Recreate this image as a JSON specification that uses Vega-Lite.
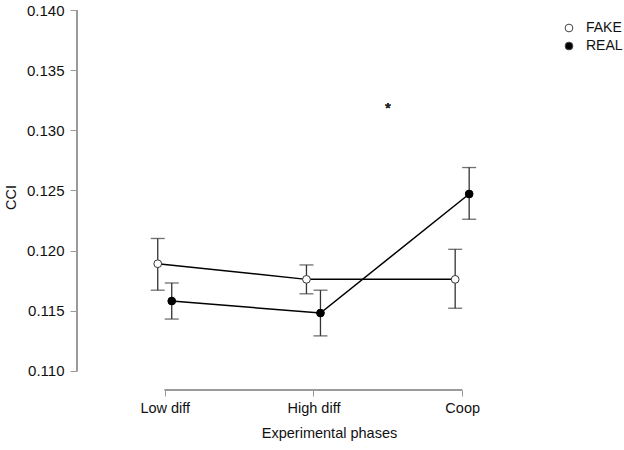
{
  "$schema": "https://vega.github.io/schema/vega-lite/v6.json",
  "autosize": {"type": "none"},
  "padding": {"left": 77, "top": 4, "right": 43, "bottom": 60},
  "width": 504,
  "height": 386,
  "background": "white",
  "data": {
    "values": [
      {"phase": 1, "group": "FAKE", "cci": 0.1189, "lo": 0.1167, "hi": 0.1210},
      {"phase": 2, "group": "FAKE", "cci": 0.1176, "lo": 0.1164, "hi": 0.1188},
      {"phase": 3, "group": "FAKE", "cci": 0.1176, "lo": 0.1152, "hi": 0.1201},
      {"phase": 1, "group": "REAL", "cci": 0.1158, "lo": 0.1143, "hi": 0.1173},
      {"phase": 2, "group": "REAL", "cci": 0.1148, "lo": 0.1129, "hi": 0.1167},
      {"phase": 3, "group": "REAL", "cci": 0.1247, "lo": 0.1226, "hi": 0.1269}
    ]
  },
  "encoding": {
    "x": {
      "field": "phase",
      "type": "quantitative",
      "title": "Experimental phases",
      "scale": {"domain": [0.41, 3.799], "nice": false, "zero": false},
      "axis": {
        "values": [1, 2, 3],
        "domain": false,
        "grid": false,
        "tickSize": 6,
        "labelPadding": 5,
        "titlePadding": 12,
        "labelExpr": "datum.value == 1 ? 'Low diff' : datum.value == 2 ? 'High diff' : 'Coop'",
        "labelFontSize": 14.5,
        "titleFontSize": 14.5
      }
    },
    "y": {
      "field": "cci",
      "type": "quantitative",
      "title": "CCI",
      "scale": {"domain": [0.1084, 0.1405], "nice": false, "zero": false},
      "axis": {
        "values": [0.11, 0.115, 0.12, 0.125, 0.13, 0.135, 0.14],
        "format": ".3f",
        "domain": false,
        "grid": false,
        "tickSize": 7,
        "labelPadding": 6,
        "titlePadding": 8,
        "labelFontSize": 15,
        "titleFontSize": 14.5
      }
    }
  },
  "layer": [
    {
      "mark": {"type": "rule", "color": "#999", "strokeWidth": 1},
      "encoding": {"x": {"datum": 0.41}, "y": {"datum": 0.11}, "y2": {"datum": 0.14}}
    },
    {
      "mark": {"type": "rule", "color": "#999", "strokeWidth": 1},
      "encoding": {"x": {"datum": 1}, "x2": {"datum": 3}, "y": {"datum": 0.1084}}
    },
    {
      "transform": [{"filter": "datum.group == 'FAKE'"}],
      "layer": [
        {"mark": {"type": "line", "color": "black", "strokeWidth": 1.5, "xOffset": -7}, "encoding": {}},
        {"mark": {"type": "rule", "color": "#333", "strokeWidth": 1.3, "xOffset": -7}, "encoding": {"y": {"field": "lo"}, "y2": {"field": "hi"}}},
        {"mark": {"type": "tick", "orient": "horizontal", "color": "#333", "size": 14, "thickness": 1.3, "xOffset": -7}, "encoding": {"y": {"field": "hi"}}},
        {"mark": {"type": "tick", "orient": "horizontal", "color": "#333", "size": 14, "thickness": 1.3, "xOffset": -7}, "encoding": {"y": {"field": "lo"}}},
        {
          "mark": {"type": "point", "filled": true, "opacity": 1, "size": 60, "stroke": "#333", "strokeWidth": 1, "xOffset": -7},
          "encoding": {"fill": {"field": "group", "type": "nominal"}}
        }
      ]
    },
    {
      "transform": [{"filter": "datum.group == 'REAL'"}],
      "layer": [
        {"mark": {"type": "line", "color": "black", "strokeWidth": 1.5, "xOffset": 7}, "encoding": {}},
        {"mark": {"type": "rule", "color": "#333", "strokeWidth": 1.3, "xOffset": 7}, "encoding": {"y": {"field": "lo"}, "y2": {"field": "hi"}}},
        {"mark": {"type": "tick", "orient": "horizontal", "color": "#333", "size": 14, "thickness": 1.3, "xOffset": 7}, "encoding": {"y": {"field": "hi"}}},
        {"mark": {"type": "tick", "orient": "horizontal", "color": "#333", "size": 14, "thickness": 1.3, "xOffset": 7}, "encoding": {"y": {"field": "lo"}}},
        {
          "mark": {"type": "point", "filled": true, "opacity": 1, "size": 60, "stroke": "black", "strokeWidth": 1, "xOffset": 7},
          "encoding": {"fill": {"field": "group", "type": "nominal"}}
        }
      ]
    },
    {
      "mark": {"type": "text", "text": "*", "fontSize": 15, "baseline": "middle", "dy": 3, "color": "#222"},
      "encoding": {"x": {"datum": 2.5}, "y": {"datum": 0.1321}}
    }
  ],
  "resolve": {"legend": {"fill": "shared"}},
  "config": {
    "font": "Liberation Sans",
    "view": {"stroke": null},
    "axis": {
      "tickColor": "#999",
      "labelColor": "#111",
      "titleColor": "#111",
      "titleFontWeight": "normal"
    },
    "legend": {
      "orient": "none",
      "legendX": 485,
      "legendY": 17,
      "title": null,
      "padding": 0,
      "symbolType": "circle",
      "symbolSize": 60,
      "symbolStrokeColor": "#444",
      "symbolStrokeWidth": 1,
      "labelFontSize": 14,
      "labelColor": "#111",
      "labelOffset": 10,
      "rowPadding": 4
    },
    "range": {"category": ["white", "black"]}
  }
}
